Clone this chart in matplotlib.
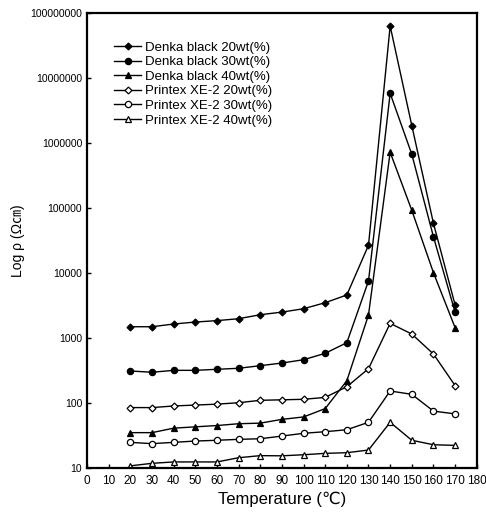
import matplotlib
matplotlib.use("Agg")
import matplotlib.pyplot as plt
from matplotlib.ticker import FixedLocator, NullLocator

plt.rcParams['font.family'] = ['Liberation Sans', 'DejaVu Sans', 'Noto Sans CJK KR']

temps = [20, 30, 40, 50, 60, 70, 80, 90, 100, 110, 120, 130, 140, 150, 160, 170]

denka_20 = [1490, 1490, 1640, 1760, 1850, 1980, 2280, 2500, 2820, 3490, 4590, 26700, 63000000, 1850000, 58000, 3220]
denka_30 = [311, 297, 318, 318, 330, 342, 375, 412, 463, 581, 847, 7530, 5800000, 670000, 36000, 2480]
denka_40 = [35, 35, 41, 43, 45, 48, 49, 56, 61, 82, 220, 2260, 720000, 92000, 10100, 1440]
printex_20 = [85, 85, 90, 93, 96, 101, 110, 112, 114, 122, 178, 337, 1680, 1150, 567, 185]
printex_30 = [24.8, 23.7, 24.8, 26.0, 26.7, 27.6, 28.2, 31, 34.2, 36.2, 38.8, 50.5, 153, 136, 75, 68]
printex_40 = [10.8, 11.8, 12.4, 12.4, 12.4, 14.4, 15.5, 15.4, 16.0, 16.8, 17.2, 18.9, 50.5, 26.7, 22.8, 22.3]

labels = ["Denka black 20wt(%)", "Denka black 30wt(%)", "Denka black 40wt(%)",
          "Printex XE-2 20wt(%)", "Printex XE-2 30wt(%)", "Printex XE-2 40wt(%)"]

fig = plt.figure(figsize=(4.86, 5.18), dpi=100)
ax = fig.add_axes([0.179, 0.0965, 0.802, 0.8785])

series = [denka_20, denka_30, denka_40, printex_20, printex_30, printex_40]
markers = ['D', 'o', '^', 'D', 'o', '^']
sizes = [3.5, 4.5, 4.5, 3.5, 4.5, 4.5]
faces = ['black', 'black', 'black', 'white', 'white', 'white']

for vals, m, s, fc, lab in zip(series, markers, sizes, faces, labels):
    ax.plot(temps, vals, color='black', lw=1, marker=m, ms=s,
            markerfacecolor=fc, markeredgecolor='black', markeredgewidth=0.9, label=lab)

ax.set_yscale('log')
ax.set_ylim(10, 1e8)
ax.set_xlim(0, 180)
ax.xaxis.set_major_locator(FixedLocator(range(0, 181, 10)))
ax.yaxis.set_major_locator(FixedLocator([10 ** k for k in range(1, 9)]))
ax.yaxis.set_minor_locator(NullLocator())
ax.set_yticklabels([str(10 ** k) for k in range(1, 9)])
ax.tick_params(direction='in', length=3, width=1, labelsize=7.5)
ax.tick_params(axis='x', pad=5, labelsize=8.5)

for sp in ax.spines.values():
    sp.set_linewidth(1.6)

ax.set_xlabel("Temperature (\u2103)", fontsize=12, labelpad=3)
ax.set_ylabel("Log \u03c1 (\u03a9\u339d)", fontsize=10, labelpad=4)

ax.legend(loc='upper left', bbox_to_anchor=(0.045, 0.958), frameon=False, fontsize=9.5,
          labelspacing=0.18, handlelength=2.1, handletextpad=0.25, borderaxespad=0.3)

fig.savefig("out.png", dpi=100)
